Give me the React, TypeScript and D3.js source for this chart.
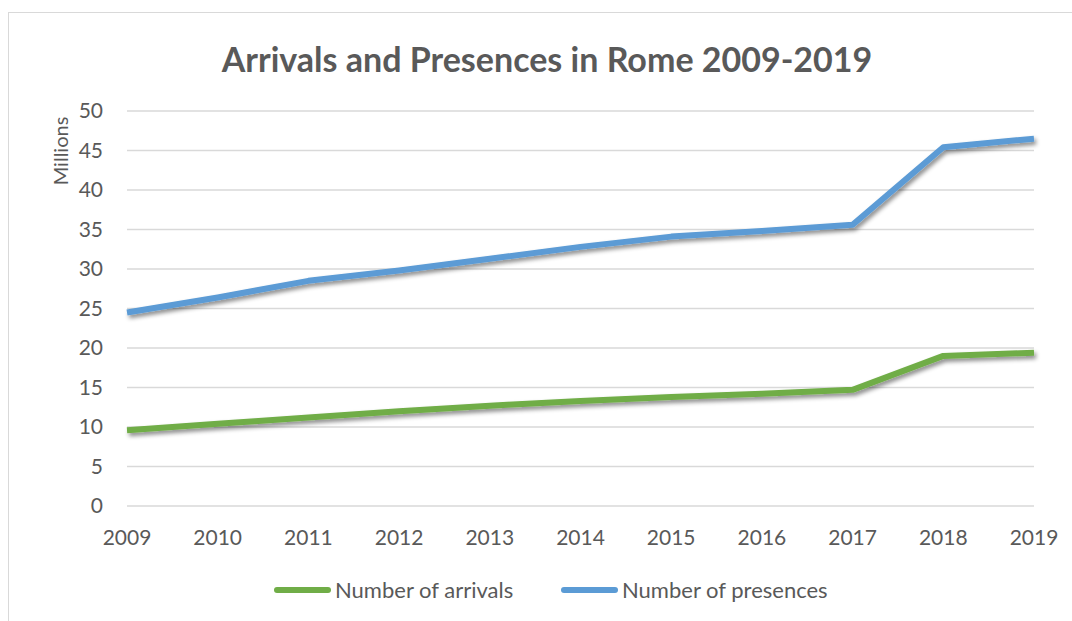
import React from "react";
import * as d3 from "d3";

const years = ["2009", "2010", "2011", "2012", "2013", "2014", "2015", "2016", "2017", "2018", "2019"];
const arrivals = [9.6, 10.4, 11.2, 12.0, 12.7, 13.3, 13.8, 14.2, 14.7, 19.0, 19.4];
const presences = [24.5, 26.4, 28.5, 29.8, 31.3, 32.8, 34.1, 34.8, 35.6, 45.4, 46.5];
const yTicks = [0, 5, 10, 15, 20, 25, 30, 35, 40, 45, 50];
const seriesNames = ["Number of arrivals", "Number of presences"];

const W = 1072;
const H = 621;
const FONT = "Lato, 'Open Sans', sans-serif";
const TEXT = "#595959";
const GREEN = "#70AD47";
const BLUE = "#5B9BD5";

export default function App() {
  const x = d3.scalePoint<string>().domain(years).range([127, 1034]);
  const y = d3.scaleLinear().domain([0, 50]).range([506, 111]);

  const line = d3
    .line<number>()
    .x((_, i) => x(years[i]) as number)
    .y((d) => y(d));

  const series = [
    { name: seriesNames[0], values: arrivals, color: GREEN },
    { name: seriesNames[1], values: presences, color: BLUE },
  ];

  const legendItems = [
    { name: seriesNames[0], color: GREEN, x0: 274 },
    { name: seriesNames[1], color: BLUE, x0: 561 },
  ];

  return (
    <svg
      width={W}
      height={H}
      style={{ position: "absolute", left: 0, top: 0, background: "#fff" }}
      fontFamily={FONT}
    >
      <defs>
        <filter id="lineShadow" x="-5%" y="-20%" width="110%" height="140%">
          <feDropShadow dx="2" dy="3" stdDeviation="2.2" floodColor="#000" floodOpacity="0.45" />
        </filter>
      </defs>

      <rect x={8.5} y={12.5} width={W + 10} height={H + 10} fill="#fff" stroke="#D9D9D9" strokeWidth={1} />

      <text
        x={547}
        y={72}
        textAnchor="middle"
        fontSize={34}
        fontWeight={700}
        fill={TEXT}
      >
        Arrivals and Presences in Rome 2009-2019
      </text>

      {/* horizontal gridlines and value labels */}
      {yTicks.map((t) => (
        <g key={t}>
          <line x1={127} x2={1034} y1={y(t)} y2={y(t)} stroke="#D9D9D9" strokeWidth={1.5} />
          <text x={103} y={y(t)} dy="0.35em" textAnchor="end" fontSize={21} fill={TEXT}>
            {t}
          </text>
        </g>
      ))}

      <text
        transform={`translate(68, 151) rotate(-90)`}
        textAnchor="middle"
        fontSize={20}
        fill={TEXT}
      >
        Millions
      </text>

      {/* category labels */}
      {years.map((yr) => (
        <text key={yr} x={x(yr)} y={545} textAnchor="middle" fontSize={21} fill={TEXT}>
          {yr}
        </text>
      ))}

      {/* series lines */}
      {series.map((s) => (
        <path
          key={s.name}
          d={line(s.values) ?? ""}
          fill="none"
          stroke={s.color}
          strokeWidth={6}
          strokeLinejoin="round"
          filter="url(#lineShadow)"
        />
      ))}

      {/* legend */}
      {legendItems.map((l) => (
        <g key={l.name}>
          <line x1={l.x0 + 3} x2={l.x0 + 54} y1={590} y2={590} stroke={l.color} strokeWidth={6} strokeLinecap="round" />
          <text x={l.x0 + 61} y={590} dy="0.35em" fontSize={22} fill={TEXT}>
            {l.name}
          </text>
        </g>
      ))}
    </svg>
  );
}
